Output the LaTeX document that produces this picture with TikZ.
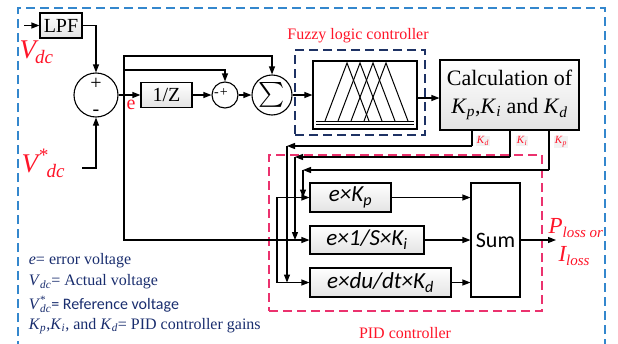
\documentclass[tikz,border=0pt]{standalone}
\usepackage{exscale}
\usepackage{fontspec}
\setmainfont{Liberation Serif}
\newfontfamily\calib{Carlito}
\usetikzlibrary{arrows.meta,calc}
\definecolor{myred}{RGB}{255,20,40}
\definecolor{myblue}{RGB}{52,135,205}
\definecolor{mynavy}{RGB}{30,50,100}
\definecolor{mypink}{RGB}{235,50,110}
\definecolor{legc}{RGB}{25,45,110}
\begin{document}
\begin{tikzpicture}[x=1pt,y=-1pt,line width=1.1pt,
  arr/.style={-{Triangle[length=8pt,width=6pt]}},
  box/.style={draw, rectangle, inner sep=0pt, top color=white, bottom color=gray!22},
  circ/.style={draw, circle, inner sep=0pt, fill=white},
  pidbox/.style={box, font=\calib\itshape\fontsize{23}{23}\selectfont},
  klab/.style={fill=gray!10, inner sep=1pt, text=myred, font=\fontsize{11}{11}\selectfont},
  legend/.style={anchor=west, text=legc, font=\fontsize{16}{16}\selectfont},
  dashpat/.style={dash pattern=on 9pt off 5pt, line width=1.4pt}]
\useasboundingbox (0,0) rectangle (618,343);
% outer frame
\draw[myblue, dashpat] (18,350) -- (18,8) -- (605,8) -- (605,350);
% dashed groups
\node[draw=mynavy, dashpat, minimum width=130pt, minimum height=85pt, inner sep=0pt] (fzd) at (360,92.5) {};
\node[draw=mypink, dashpat, minimum width=273pt, minimum height=156pt, inner sep=0pt] (pid) at (405.5,233) {};
\node[text=myred, font=\fontsize{16}{16}\selectfont] (flc) at (358,36) {Fuzzy logic controller};
\node[text=myred, font=\fontsize{16}{16}\selectfont] (pidl) at (405,333) {PID controller};
% input side
\node[box, minimum width=42pt, minimum height=25pt, font=\fontsize{20}{20}\selectfont] (lpf) at (61,25.5) {LPF};
\coordinate (vin) at (24,25.5);
\draw[arr] (vin) -- (lpf.west);
\node[anchor=base west, text=myred, inner sep=0pt, font=\fontsize{27}{27}\selectfont\itshape] (vdc) at (19,58) {V\kern-1pt\raisebox{-5pt}{\fontsize{19}{19}\selectfont dc}};
\node[anchor=base west, text=myred, inner sep=0pt, font=\fontsize{27}{27}\selectfont\itshape] (vref) at (21,172) {V\raisebox{11pt}{\fontsize{19}{19}\selectfont *}\kern-1pt\raisebox{-5pt}{\fontsize{19}{19}\selectfont dc}};
\node[circ, minimum size=44pt] (c1) at (96,95) {};
\node[font=\fontsize{20}{20}\selectfont, inner sep=0pt] (c1p) at (96,84) {+};
\node[font=\fontsize{20}{20}\selectfont, inner sep=0pt] (c1m) at (96,113) {-};
\draw[arr] (lpf.east) -| (c1.north);
\coordinate (vr) at (82,168);
\draw[arr] (vr) -| (c1.south);
\node[box, minimum width=51pt, minimum height=25pt, font=\fontsize{20}{20}\selectfont] (z) at (166.5,95) {1/Z};
\draw[arr] (c1.east) -- (z.west);
\node[text=myred, font=\fontsize{20}{20}\selectfont, inner sep=0pt] (el) at (131,105) {e};
\coordinate (je) at (124,95);
\node[circ, minimum size=26pt] (c2) at (225,95) {};
\node[font=\fontsize{14}{14}\selectfont, inner sep=0pt] (c2t) at (221,93) {-\kern1pt+};
\draw[arr] (z.east) -- (c2.west);
\node[circ, minimum size=40pt, font=\fontsize{27}{27}\selectfont] (sig) at (272,95) {$\sum$};
\draw[arr] (c2.east) -- (sig.west);
\coordinate (top1) at (124,56);
\coordinate (top2) at (124,70);
\draw[arr] (je) -- (top1) -| (sig.north);
\draw[arr] (top2) -| (c2.north);
% fuzzy
\node[draw, fill=white, minimum width=104pt, minimum height=68pt, inner sep=0pt] (fz) at (365,95) {};
\foreach \p in {347,360,373,386} \draw[line width=1pt] (\p-22,121) -- (\p,63) -- (\p+22,121);
\draw[line width=1pt] (316,121) -- (414,121);
\draw[line width=1pt] (316,124) -- (414,124);
\draw[arr] (sig.east) -- (fz.west);
\node[box, minimum width=139pt, minimum height=70pt, align=center, font=\fontsize{22}{28}\selectfont] (calc) at (509.5,95) {Calculation of\\\textit{K}\textsubscript{\textit{p}},\textit{K}\textsubscript{\textit{i}} and \textit{K}\textsubscript{\textit{d}}};
\draw[arr] ([yshift=-3pt]fz.east) -- ([yshift=-3pt]calc.west);
% PID blocks
\node[pidbox, minimum width=81pt, minimum height=29pt] (kp) at (350.5,197.5) {e×K\textsubscript{p}};
\node[pidbox, minimum width=114pt, minimum height=28pt] (ki) at (367,240) {e×1/S×K\textsubscript{i}};
\node[pidbox, minimum width=141pt, minimum height=29pt] (kd) at (380.5,282.5) {e×du/dt×K\textsubscript{d}};
\node[draw, fill=white, minimum width=49pt, minimum height=114pt, inner sep=0pt, font=\calib\fontsize{22}{22}\selectfont] (sum) at (495.5,240) {Sum};
\draw[arr] (kp.east) -- (kp.east -| sum.west);
\draw[arr] (ki.east) -- (sum.west);
\draw[arr] (kd.east) -- (kd.east -| sum.west);
\coordinate (out) at (556,240);
\draw[arr] (sum.east) -- (out);
\node[anchor=base west, text=myred, inner sep=0pt, font=\fontsize{23}{23}\selectfont\itshape] (pl) at (548,233) {P\raisebox{-4pt}{\fontsize{15}{15}\selectfont loss or}};
\node[anchor=base west, text=myred, inner sep=0pt, font=\fontsize{23}{23}\selectfont\itshape] (il) at (558,261) {I\raisebox{-4pt}{\fontsize{15}{15}\selectfont loss}};
% e feed into PID
\draw[arr] (je) |- (ki.west);
\coordinate (jb) at (277,240);
\draw[arr] (jb) |- (kp.west);
\draw[arr] (jb) |- (kd.west);
% gains
\coordinate (kdc) at (472,146); \coordinate (kdl) at (287,146);
\coordinate (kic) at (510,157); \coordinate (kil) at (295,157);
\coordinate (kpc) at (549,170); \coordinate (kpl) at (303,170);
\draw (calc.south -| kdc) -- (kdc); \draw[arr] (kdc) -- (kdl);
\draw[arr] (kdl) -- (kdl |- kd.west);
\draw (calc.south -| kic) -- (kic); \draw[arr] (kic) -- (kil);
\draw[arr] (kil) -- (kil |- ki.west);
\draw (calc.south -| kpc) -- (kpc); \draw[arr] (kpc) -- (kpl);
\draw[arr] (kpl) -- (kpl |- kp.west);
\node[klab] (lkd) at (483,141) {\textit{K}\textsubscript{\textit{d}}};
\node[klab] (lki) at (522,141) {\textit{K}\textsubscript{\textit{i}}};
\node[klab] (lkp) at (561,142) {\textit{K}\textsubscript{\textit{p}}};
% legend
\node[legend] (lg1) at (25,261) {\textit{e}= error voltage};
\node[legend] (lg2) at (25,282) {\textit{V}\textsubscript{\textit{dc}}= Actual voltage};
\node[legend] (lg3) at (25,304) {\textit{V}\rlap{\textsuperscript{*}}\textsubscript{\textit{dc}}{\calib= Reference voltage}};
\node[legend] (lg4) at (25,326) {\textit{K}\textsubscript{\textit{p}},\textit{K}\textsubscript{\textit{i}}, and \textit{K}\textsubscript{\textit{d}}= PID controller gains};
\end{tikzpicture}
\end{document}
